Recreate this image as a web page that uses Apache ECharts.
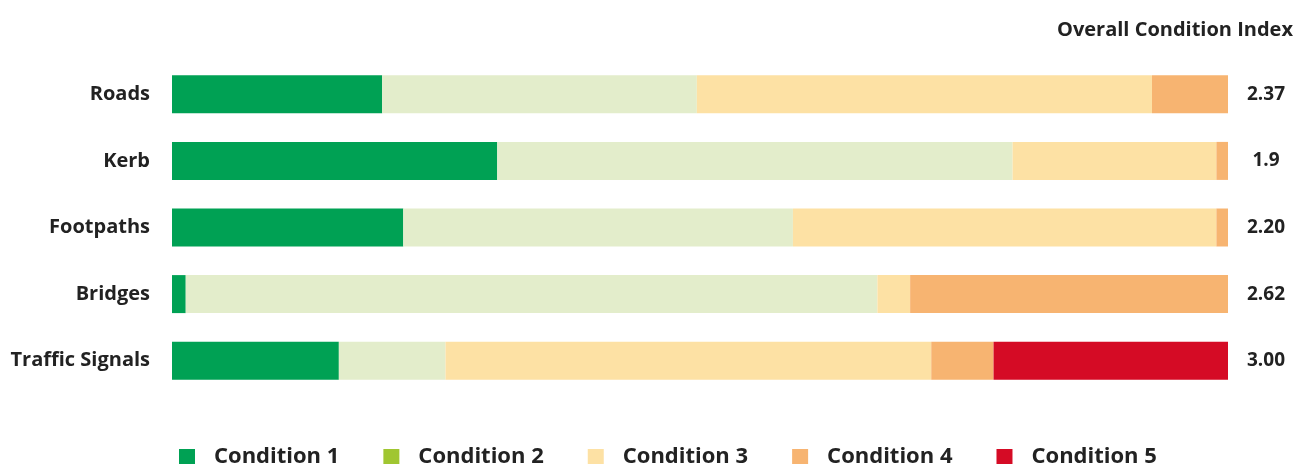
<!DOCTYPE html>
<html><head><meta charset="utf-8">
<script src="https://cdn.jsdelivr.net/npm/echarts@6/dist/echarts.min.js"></script>
<style>html,body{margin:0;padding:0;background:#fff}#c{width:1296px;height:464px}</style>
</head><body><div id="c"></div>
<script>
const categories = ['Roads', 'Kerb', 'Footpaths', 'Bridges', 'Traffic Signals'];
const indexLabels = ['2.37', '1.9', '2.20', '2.62', '3.00'];
const seriesNames = ['Condition 1', 'Condition 2', 'Condition 3', 'Condition 4', 'Condition 5'];
const cond1 = [19.9, 30.8, 21.9, 1.3, 15.8];
const cond2 = [29.8, 48.8, 36.9, 65.5, 10.1];
const cond3 = [43.1, 19.3, 40.1, 3.1, 46.0];
const cond4 = [7.2, 1.1, 1.1, 30.1, 5.9];
const cond5 = [0, 0, 0, 0, 22.2];
const barColors = ['#00a154', '#e3edcb', '#fde1a4', '#f7b471', '#d50b25'];
const legendColors = ['#00a154', '#a0c631', '#fde1a4', '#f7b471', '#d50b25'];
const values = [cond1, cond2, cond3, cond4, cond5];
const FONT = 'Open Sans';

const chart = echarts.init(document.getElementById('c'));
chart.setOption({
  animation: false,
  title: {
    text: 'Overall Condition Index', right: -2, top: 15,
    textStyle: { fontFamily: FONT, fontWeight: 'bold', fontSize: 20, color: '#222' }
  },
  legend: {
    bottom: -9, left: 174, itemWidth: 16, itemHeight: 16, itemGap: 44,
    icon: 'rect',
    data: seriesNames.map((n, i) => ({ name: n, itemStyle: { color: legendColors[i] } })),
    textStyle: { fontFamily: FONT, fontWeight: 'bold', fontSize: 22, color: '#222', padding: [0, 0, 0, 14] }
  },
  grid: { left: 172, right: 68, top: 61, bottom: 70 },
  xAxis: { type: 'value', min: 0, max: 100, show: false },
  yAxis: [
    { type: 'category', data: categories, inverse: true,
      axisLine: { show: false }, axisTick: { show: false },
      axisLabel: { margin: 22, padding: [2, 0, 0, 0], fontFamily: FONT, fontWeight: 'bold', fontSize: 20, color: '#222' } },
    { type: 'category', data: indexLabels, inverse: true, position: 'right',
      axisLine: { show: false }, axisTick: { show: false },
      axisLabel: { margin: 38, padding: [2, 0, 0, 0], align: 'center', fontFamily: FONT, fontWeight: 'bold', fontSize: 19, color: '#222' } }
  ],
  series: seriesNames.map((n, i) => ({
    name: n, type: 'bar', stack: 'total', barWidth: 38,
    itemStyle: { color: barColors[i] },
    data: values[i]
  }))
});
</script></body></html>
